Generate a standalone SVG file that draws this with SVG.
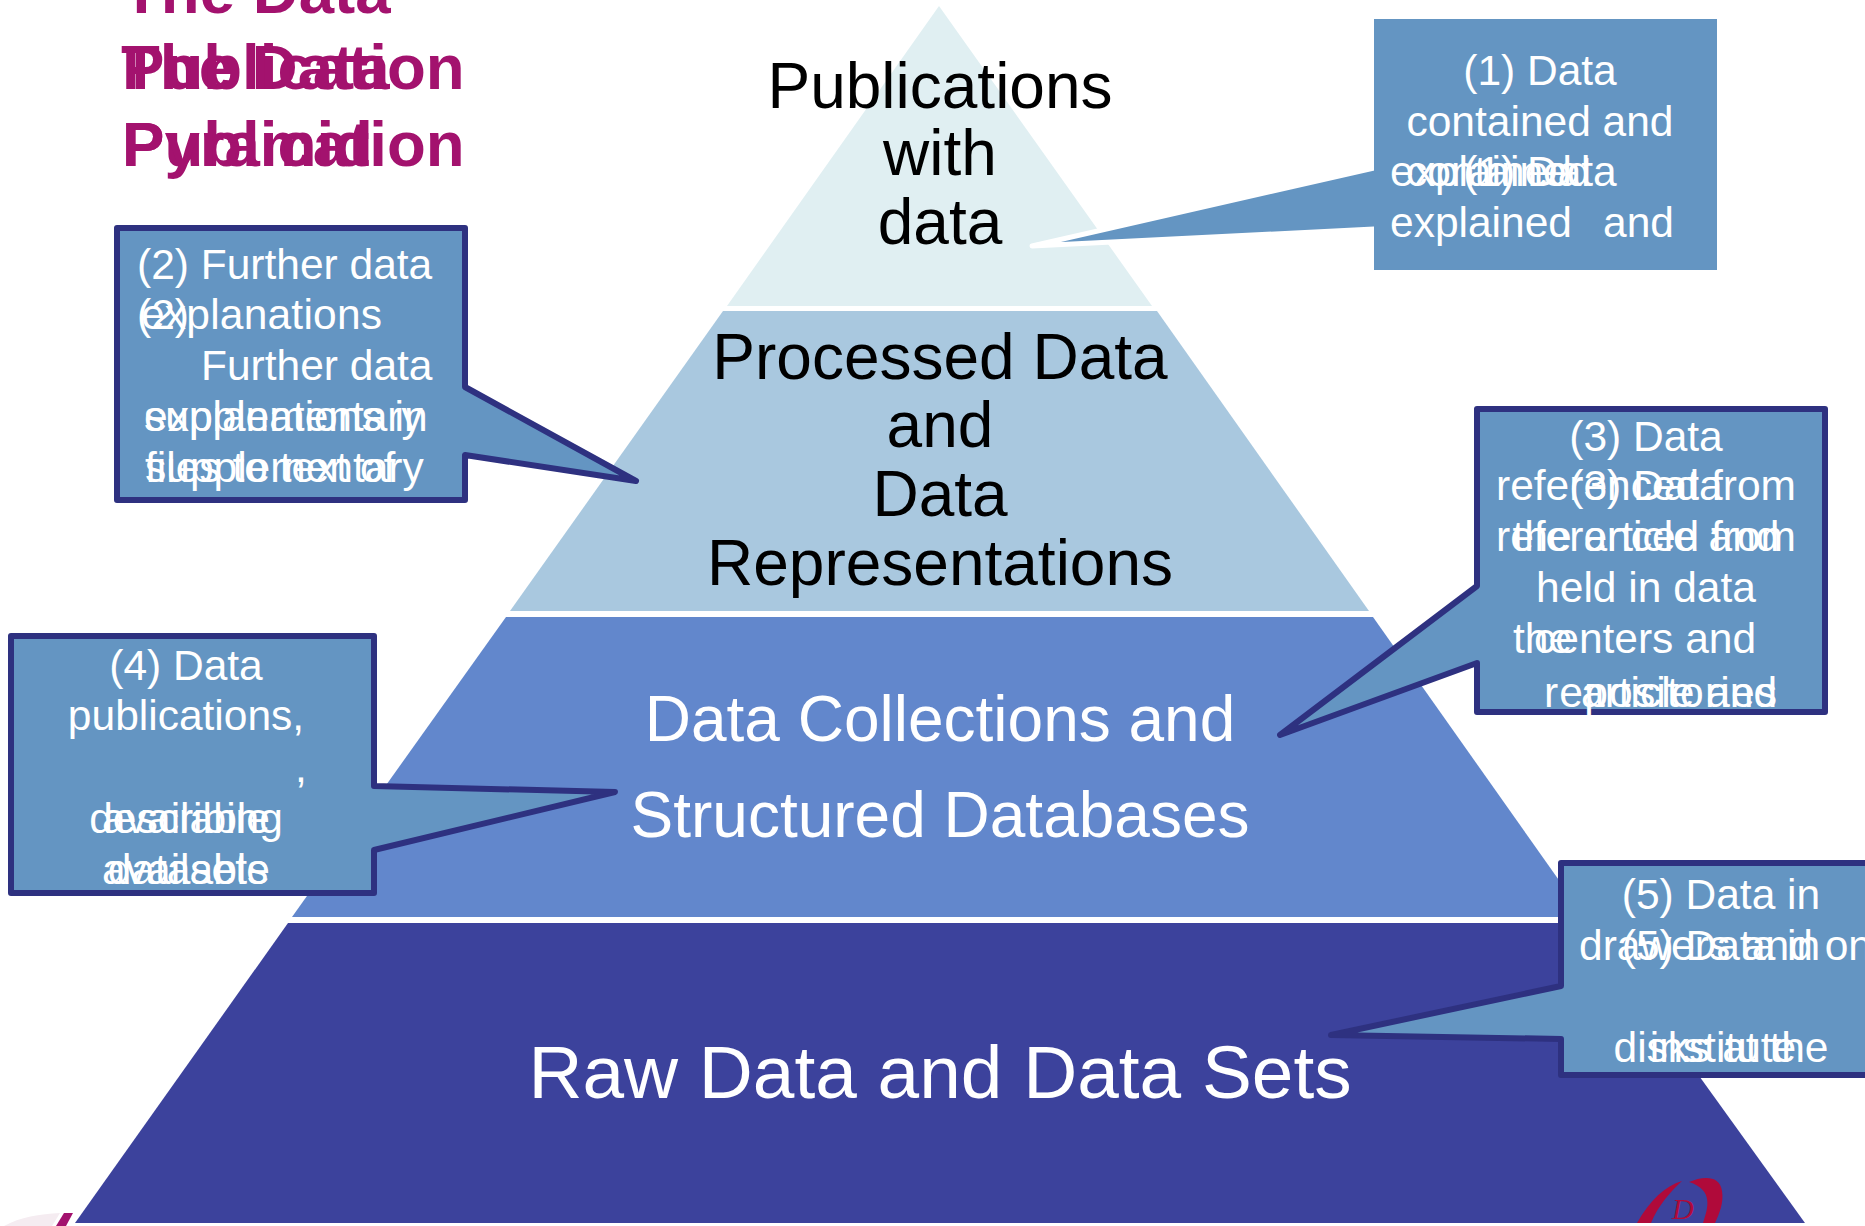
<svg xmlns="http://www.w3.org/2000/svg" width="1865" height="1226" viewBox="0 0 1865 1226">
<style>
text{font-family:"Liberation Sans",Arial,sans-serif}
.t{font-size:63.6px;font-weight:bold;fill:#A3126E}
.c{font-size:42.5px;fill:#fff;text-anchor:middle}
.l{font-size:42.5px;fill:#fff}
.m{text-anchor:middle;font-size:64px}
.b{fill:#6495C2;stroke:#2E3180;stroke-width:6;stroke-linejoin:round}
</style>
<rect width="1865" height="1226" fill="#fff"/>
<g id="pyramid">
<polygon id="tier1" points="939,6 1152,306 727,306" fill="#E0EFF2"/>
<polygon id="tier2" points="723,311 1157,311 1369,611 510,611" fill="#A9C8DF"/>
<polygon id="tier3" points="506,617 1373,617 1585,917 292,917" fill="#6287CC"/>
<polygon id="tier4" points="288,923 1589,923 1805,1223 75,1223" fill="#3C429C"/>
</g>
<g id="labels">
<g fill="#000"><text class="m" x="940" y="108">Publications</text><text class="m" x="940" y="175">with</text><text class="m" x="940" y="244">data</text>
<text class="m" x="940" y="379">Processed Data</text><text class="m" x="940" y="447">and</text><text class="m" x="940" y="516">Data</text><text class="m" x="940" y="585">Representations</text></g>
<g fill="#fff"><text class="m" x="940" y="741">Data Collections and</text><text class="m" x="940" y="837">Structured Databases</text><text class="m" x="940" y="1098" style="font-size:74.8px">Raw Data and Data Sets</text></g>
</g>
<g id="title">
<text class="t" x="122" y="13">The Data</text>
<text class="t" x="121" y="89">The Data</text>
<text class="t" x="122" y="89">Publication</text>
<text class="t" x="122" y="166">Publication</text>
<text class="t" x="122" y="166">Pyramid</text>
</g>
<g id="callout1">
<path d="M1374 19H1717V270H1374V229L1032 246L1374 168Z" fill="#6495C2" stroke="#fff" stroke-width="5" stroke-linejoin="round"/>
<rect x="1374" y="19" width="343" height="251" fill="#6495C2"/>
<text class="c" x="1540" y="85">(1) Data</text><text class="c" x="1540" y="136">contained and</text>
<text class="c" x="1540" y="186">(1) Data</text><text class="l" x="1406" y="186">contained</text>
<text class="l" x="1390" y="237">explained</text><text class="l" x="1603" y="237">and</text><text class="l" x="1390" y="186">explained</text>
</g>
<g id="callout2">
<path class="b" d="M117 228H465V387L636 481L465 455V500H117Z"/>
<text class="l" x="137" y="279">(2) Further data</text><text class="l" x="141" y="329" textLength="241">explanations</text><text class="l" x="137" y="329">(2)</text><text class="l" x="201" y="380">Further data</text>
<text class="l" x="144" y="431">explanations in</text><text class="l" x="144" y="431">supplementary</text><text class="l" x="145" y="482">supplementary</text><text class="l" x="145" y="482">files to text of</text>
</g>
<g id="callout3">
<path class="b" d="M1477 409H1825V712H1477V663L1280 735L1477 586Z"/>
<text class="c" x="1646" y="451">(3) Data</text><text class="c" x="1646" y="500">referenced from</text><text class="c" x="1646" y="500">(3) Data</text><text class="c" x="1646" y="551">referenced from</text><text class="c" x="1646" y="551">the article and</text><text class="c" x="1646" y="602">held in data</text><text class="l" x="1513" y="653">the</text><text class="l" x="1534" y="653">centers and</text><text class="l" x="1544" y="707" textLength="233">repositories</text><text class="l" x="1581" y="707">article and</text>
</g>
<g id="callout4">
<path class="b" d="M11 636H374V786L615 792L374 850V893H11Z"/>
<text class="c" x="186" y="680">(4) Data</text><text class="c" x="186" y="730">publications,</text><text class="l" x="295" y="782">,</text><text class="c" x="186" y="833">describing</text><text class="c" x="186" y="833">available</text><text class="c" x="188" y="884">datasets</text><text class="c" x="186" y="884">available</text>
</g>
<g id="callout5">
<path class="b" d="M1561 863H1880V1075H1561V1039L1331 1035L1561 986Z"/>
<text class="c" x="1721" y="909">(5) Data in</text><text class="l" x="1579" y="960">drawers and on</text><text class="c" x="1721" y="960">(5) Data in</text><text class="c" x="1721" y="1062">disks at the</text><text class="c" x="1723" y="1062">institute</text>
</g>
<g id="logo" fill="#B00A3A">
<path d="M1637 1223C1650 1200 1665 1186 1682 1181C1670 1192 1658 1206 1651 1223Z"/>
<path d="M1689 1182C1703 1176 1720 1175 1722 1191C1724 1203 1719 1214 1715 1223H1703C1708 1208 1714 1190 1689 1182Z"/>
<text x="1672" y="1219" style="font-family:'Liberation Serif',serif;font-style:italic;font-size:30px" fill="#B00A3A">D</text>
</g>
<g id="logo-left"><path d="M4 1226C20 1217 40 1214 60 1213L52 1226Z" fill="#F5ECF1"/><path d="M64 1213H73L66 1226H56Z" fill="#A3126E"/></g>
</svg>
